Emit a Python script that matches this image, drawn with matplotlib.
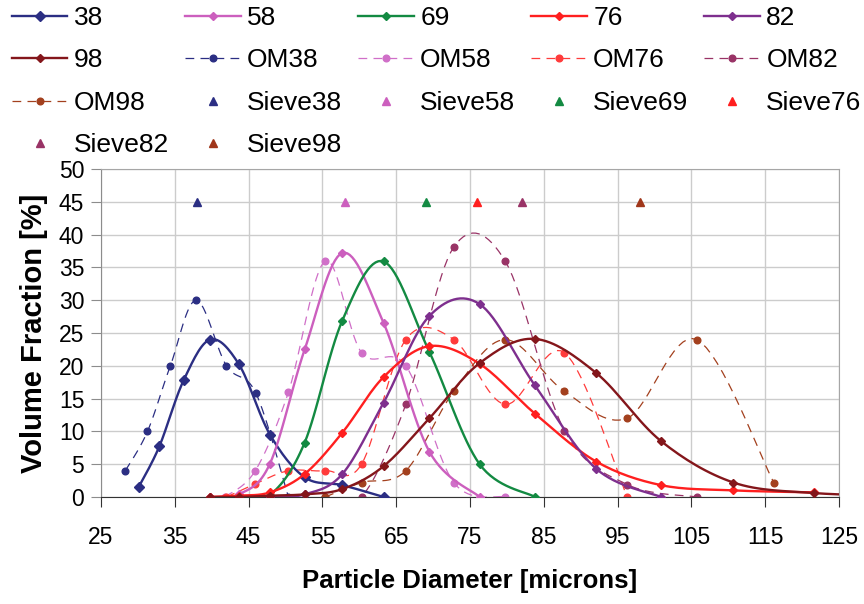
import numpy as np
import matplotlib.pyplot as plt

plt.rcParams['font.family'] = ['Liberation Sans', 'DejaVu Sans']

# laser diffraction size distributions (solid), optical microscopy (OM) and sieve cuts
x_38 = [30.1, 32.9, 36.2, 39.8, 43.7, 47.9, 52.6, 57.7, 63.3]
y_38 = [1.5, 7.7, 17.8, 24.0, 20.2, 9.5, 3.0, 1.8, 0.0]

x_58 = [39.8, 43.7, 47.9, 52.6, 57.7, 63.3, 69.5, 76.3]
y_58 = [0.0, 0.4, 5.1, 22.5, 37.2, 26.5, 6.9, 0.0]

x_69 = [43.7, 47.9, 52.6, 57.7, 63.3, 69.5, 76.3, 83.8]
y_69 = [0.0, 0.3, 8.3, 26.9, 35.9, 22.1, 5.0, 0.0]

x_76 = [39.8, 43.7, 47.9, 52.6, 57.7, 63.3, 69.5, 76.3, 83.8, 92.1, 100.9, 110.7, 121.6]
y_76 = [0.0, 0.2, 0.7, 3.5, 9.8, 18.3, 23.0, 20.3, 12.7, 5.4, 1.8, 1.0, 0.7]

x_82 = [47.9, 52.6, 57.7, 63.3, 69.5, 76.3, 83.8, 92.1, 100.9]
y_82 = [0.0, 0.4, 3.5, 14.4, 27.6, 29.4, 17.0, 4.3, 0.0]

x_98 = [39.8, 43.7, 47.9, 52.6, 57.7, 63.3, 69.5, 76.3, 83.8, 92.1, 100.9, 110.7, 121.6, 133.4]
y_98 = [0.0, 0.0, 0.2, 0.4, 1.2, 4.7, 12.0, 20.4, 24.1, 18.9, 8.5, 2.2, 0.6, 0.2]

x_om38 = [28.3, 31.3, 34.4, 37.9, 42.0, 46.0, 50.4]
y_om38 = [4.0, 10.0, 20.0, 30.0, 20.0, 15.8, 0.0]

x_om58 = [41.8, 45.9, 50.4, 55.4, 60.3, 66.3, 72.8, 79.8]
y_om58 = [0.0, 4.0, 16.0, 36.0, 22.0, 20.0, 2.2, 0.0]

x_om76 = [42.0, 45.9, 50.4, 55.4, 60.3, 66.3, 72.8, 79.8, 87.8, 96.3]
y_om76 = [0.0, 2.0, 4.0, 4.0, 5.0, 24.0, 24.0, 14.1, 22.0, 0.0]

x_om82 = [55.4, 60.3, 66.3, 72.8, 79.8, 87.8, 96.3, 105.7]
y_om82 = [0.0, 0.0, 14.1, 38.1, 35.9, 10.1, 1.9, 0.0]

x_om98 = [55.4, 60.3, 66.3, 72.8, 79.8, 87.8, 96.3, 105.7, 116.2]
y_om98 = [0.0, 2.2, 4.0, 16.1, 24.0, 16.1, 12.0, 24.0, 2.1]

sieve_labels = ['Sieve38', 'Sieve58', 'Sieve69', 'Sieve76', 'Sieve82', 'Sieve98']
sieve_size = [38, 58, 69, 76, 82, 98]
sieve_level = [45, 45, 45, 45, 45, 45]

xticks = list(range(25, 126, 10))
yticks = list(range(0, 51, 5))


def smooth(x, y, steps=16):
    # bezier through the points, control points from the neighbours (Excel style)
    p = np.column_stack([np.asarray(x, float), np.asarray(y, float)])
    n = len(p)
    t = np.linspace(0, 1, steps + 1)[1:, None]
    out = [p[0]]
    for i in range(n - 1):
        p0 = p[i - 1] if i > 0 else p[i]
        p1, p2 = p[i], p[i + 1]
        p3 = p[i + 2] if i + 2 < n else p[i + 1]
        c1 = p1 + (p2 - p0) / 6
        c2 = p2 - (p3 - p1) / 6
        seg = (1 - t) ** 3 * p1 + 3 * (1 - t) ** 2 * t * c1 + 3 * (1 - t) * t ** 2 * c2 + t ** 3 * p2
        out.extend(seg)
    out = np.array(out)
    return out[:, 0], out[:, 1], list(range(0, len(out), steps))


fig = plt.figure(figsize=(8.64, 6.04), dpi=100)
ax = fig.add_axes([0.1169, 0.1772, 0.8542, 0.5430])

solid = [
    ('38', x_38, y_38, '#2B2E83', 'D', 5.2),
    ('58', x_58, y_58, '#CC5FBE', 'D', 3.6),
    ('69', x_69, y_69, '#138A42', 'D', 3.6),
    ('76', x_76, y_76, '#FF1F1F', 'D', 3.6),
    ('82', x_82, y_82, '#7E2F8E', 'D', 3.6),
    ('98', x_98, y_98, '#84161B', 'D', 3.6),
]
dashed = [
    ('OM38', x_om38, y_om38, '#2B2E83'),
    ('OM58', x_om58, y_om58, '#D06FC8'),
    ('OM76', x_om76, y_om76, '#FF3B3B'),
    ('OM82', x_om82, y_om82, '#993366'),
    ('OM98', x_om98, y_om98, '#A3401E'),
]
sieve_colors = ['#2B2E83', '#CC5FBE', '#138A42', '#FF1F1F', '#993366', '#A0361A']

handles = {}
for lab, xs, ys, col, mk, ms in solid:
    sx, sy, idx = smooth(xs, ys)
    ln, = ax.plot(sx, sy, color=col, lw=1.7, marker=mk, ms=ms, markevery=idx,
                  label=lab, zorder=3)
    handles[lab] = ln

for lab, xs, ys, col in dashed:
    sx, sy, idx = smooth(xs, ys)
    ln, = ax.plot(sx, sy, color=col, lw=0.9, ls=(0, (7, 5)), marker='o', ms=4.8,
                  markevery=idx, label=lab, zorder=2.5)
    handles[lab] = ln

for lab, xs, ys, col in zip(sieve_labels, sieve_size, sieve_level, sieve_colors):
    ln, = ax.plot([xs], [ys], ls='none', marker='^', ms=6, color=col, label=lab, zorder=4)
    handles[lab] = ln

ax.set_xlim(25, 125)
ax.set_ylim(0, 50)
ax.set_xticks(xticks)
ax.set_yticks(yticks)
ax.grid(True, color='#CCCCCC', lw=1.0)
ax.set_axisbelow(True)
for side in ['top', 'right']:
    ax.spines[side].set_color('#A6A6A6')
ax.spines['left'].set_color('#8C8C8C')
ax.spines['bottom'].set_color('#333333')
ax.tick_params(axis='x', length=7, color='#333333', labelsize=16.5, pad=14)
ax.tick_params(axis='y', length=7, color='#8C8C8C', labelsize=16.5, pad=5)

ax.set_xlabel('Particle Diameter [microns]', fontsize=18.5, fontweight='bold', labelpad=14)
ax.set_ylabel('Volume Fraction [%]', fontsize=21, fontweight='bold', labelpad=8)

# legend is filled column by column, so order entries to read across rows
order = ['38', '98', 'OM98', 'Sieve82',
         '58', 'OM38', 'Sieve38', 'Sieve98',
         '69', 'OM58', 'Sieve58',
         '76', 'OM76', 'Sieve69',
         '82', 'OM82', 'Sieve76']
fig.legend([handles[k] for k in order], order, ncol=5, loc='upper left',
           bbox_to_anchor=(12 / 864, 1 - 6 / 604), bbox_transform=fig.transFigure,
           frameon=False, fontsize=19, borderpad=0, borderaxespad=0,
           handlelength=2.1, handletextpad=0.25, columnspacing=0.6, labelspacing=0.7)

fig.savefig('out.png', dpi=100)
